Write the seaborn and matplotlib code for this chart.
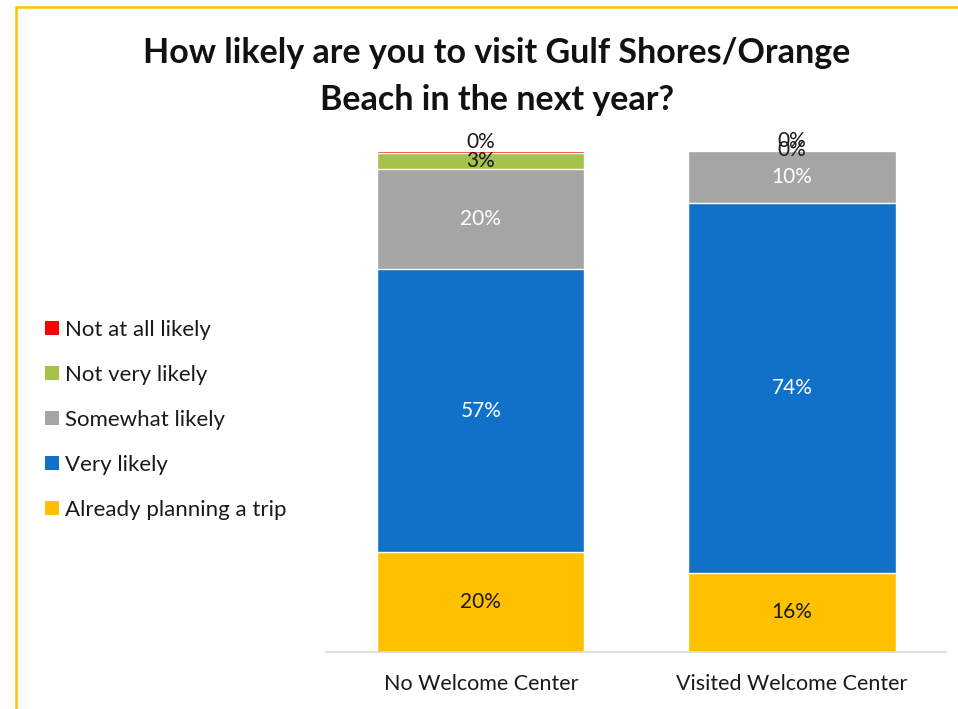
import matplotlib
matplotlib.use("Agg")
import matplotlib.pyplot as plt
from matplotlib.lines import Line2D
from matplotlib.patches import Patch
import pandas as pd
import seaborn as sns

# Survey groups and response shares (percent), stacked bottom to top
groups = ["No Welcome Center", "Visited Welcome Center"]
series = ["Already planning a trip", "Very likely", "Somewhat likely",
          "Not very likely", "Not at all likely"]
already_planning = [19.9, 15.8]
very_likely = [56.6, 73.8]
somewhat_likely = [20.0, 10.4]
not_very_likely = [3.1, 0.0]
not_at_all_likely = [0.4, 0.0]

colors = {
    "Already planning a trip": "#FFC000",
    "Very likely": "#1170C8",
    "Somewhat likely": "#A5A5A5",
    "Not very likely": "#A5C249",
    "Not at all likely": "#FF0000",
}
label_colors = {
    "Already planning a trip": "#1a1a1a",
    "Very likely": "white",
    "Somewhat likely": "white",
    "Not very likely": "#1a1a1a",
    "Not at all likely": "#1a1a1a",
}

values = {
    "Already planning a trip": already_planning,
    "Very likely": very_likely,
    "Somewhat likely": somewhat_likely,
    "Not very likely": not_very_likely,
    "Not at all likely": not_at_all_likely,
}

df = pd.DataFrame({"group": groups, **values})
cum = df[series].cumsum(axis=1)

sns.set_theme(style="white")
plt.rcParams["font.family"] = ["Lato", "DejaVu Sans"]

fig = plt.figure(figsize=(9.58, 7.09), dpi=100)
ax = fig.add_axes([326 / 958, 1 - 652 / 709, 620 / 958, 501 / 709])

# Stacked bars: draw cumulative totals from the top series down
for s in reversed(series):
    sns.barplot(x=df["group"], y=cum[s], color=colors[s], width=0.666,
                saturation=1, ax=ax, order=groups, errorbar=None)

ax.set_xlim(-0.497, 1.494)
ax.set_ylim(0, 100)

# Data labels at the middle of each segment; tiny segments get nudged upward
zero_offsets = {0: [1.7], 1: [0.2, 2.0]}
for gi, g in enumerate(groups):
    zi = 0
    for s in series:
        v = values[s][gi]
        top = cum[s][gi]
        y = top - v / 2
        if v < 1:
            y = top + zero_offsets[gi][zi]
            zi += 1
        ax.text(gi, y, f"{v:.0f}%", ha="center", va="center", fontsize=15,
                color=label_colors[s], clip_on=False)

for side in ["top", "right", "left"]:
    ax.spines[side].set_visible(False)
ax.spines["bottom"].set_color("#D9D9D9")
ax.spines["bottom"].set_linewidth(1.2)
ax.set_yticks([])
ax.set_xlabel("")
ax.set_ylabel("")
ax.tick_params(axis="x", length=0, pad=16, labelsize=15.5, colors="#1a1a1a")

# Legend on the left, top entry first
handles = [Patch(facecolor=colors[s], edgecolor="none") for s in reversed(series)]
fig.legend(handles, list(reversed(series)), loc="upper left",
           bbox_to_anchor=(25 / 958, 1 - 300 / 709), frameon=False,
           fontsize=16, handlelength=0.62, handleheight=0.62,
           handletextpad=0.3, labelspacing=1.12, labelcolor="#1a1a1a")

fig.text(497 / 958, 1 - 53 / 709, "How likely are you to visit Gulf Shores/Orange",
         ha="center", va="center", fontsize=24.5, fontweight="bold", color="#111111")
fig.text(497 / 958, 1 - 100 / 709, "Beach in the next year?",
         ha="center", va="center", fontsize=24.5, fontweight="bold", color="#111111")

# Gold frame along the top and left edges
fig.add_artist(Line2D([16 / 958, 1.0], [1 - 7 / 709, 1 - 7 / 709],
                      transform=fig.transFigure, color="#FFC000", lw=1.8))
fig.add_artist(Line2D([16 / 958, 16 / 958], [0.0, 1 - 7 / 709],
                      transform=fig.transFigure, color="#FFC000", lw=1.8))

fig.savefig("out.png", dpi=100)
